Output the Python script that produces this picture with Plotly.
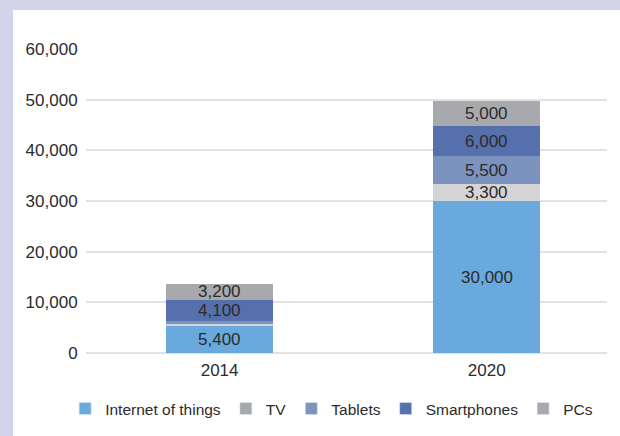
import plotly.graph_objects as go

years = ["2014", "2020"]
series_names = ["Internet of things", "TV", "Tablets", "Smartphones", "PCs"]
iot = [5400, 30000]
tv = [300, 3300]
tablets = [700, 5500]
smartphones = [4100, 6000]
pcs = [3200, 5000]
label_text = {
    "Internet of things": ["5,400", "30,000"],
    "TV": ["", "3,300"],
    "Tablets": ["", "5,500"],
    "Smartphones": ["4,100", "6,000"],
    "PCs": ["3,200", "5,000"],
}
y_ticks = [0, 10000, 20000, 30000, 40000, 50000, 60000]
y_tick_labels = ["0", "10,000", "20,000", "30,000", "40,000", "50,000", "60,000"]

bar_colors = ["#69a9dd", "#d4d4d6", "#7b93be", "#5570ad", "#a8a9ad"]
legend_colors = ["#69a9dd", "#a8a9ad", "#7b93be", "#5570ad", "#a8a9ad"]
values = [iot, tv, tablets, smartphones, pcs]

FONT = "Liberation Sans, Arial, sans-serif"
TXT = "#2b2b2b"

fig = go.Figure()
for name, vals, col in zip(series_names, values, bar_colors):
    fig.add_trace(go.Bar(x=years, y=vals, name=name, marker=dict(color=col, line=dict(width=0)),
                         width=0.4, showlegend=False, hoverinfo="skip"))
for name, col in zip(series_names, legend_colors):
    fig.add_trace(go.Bar(x=[years[0]], y=[None], name=name, marker=dict(color=col), showlegend=True))

# data labels centred in each segment (positions derived from the data)
annotations = []
base = [0] * len(years)
for name, vals in zip(series_names, values):
    for i in range(len(years)):
        txt = label_text[name][i]
        if txt:
            annotations.append(dict(x=i, y=base[i] + vals[i] / 2, text=txt, showarrow=False,
                                    xref="x", yref="y",
                                    font=dict(family=FONT, size=17, color=TXT)))
        base[i] += vals[i]

L, R, T, B = 86, 13, 49, 83
W, H = 620, 436
pw = W - L - R
ph = H - T - B
shapes = [dict(type="rect", xref="paper", yref="paper",
               x0=-(L - 13) / pw, x1=1 + (R + 5) / pw, y0=-(B + 5) / ph, y1=1 + (T - 10) / ph,
               fillcolor="white", line=dict(width=0), layer="below")]

fig.update_layout(
    width=W, height=H,
    margin=dict(l=L, r=R, t=T, b=B, autoexpand=False),
    paper_bgcolor="#d3d3ea",
    plot_bgcolor="white",
    barmode="stack",
    font=dict(family=FONT, size=17, color=TXT),
    annotations=annotations,
    shapes=shapes,
    xaxis=dict(type="category", range=[-0.5, 1.45], showgrid=False, showline=False,
               ticks="outside", ticklen=2, tickcolor="rgba(0,0,0,0)",
               tickfont=dict(size=17, color=TXT)),
    yaxis=dict(range=[0, 60000], tickvals=y_ticks, ticktext=y_tick_labels,
               showgrid=True, gridcolor="#e2e2e2", gridwidth=2,
               zeroline=True, zerolinecolor="#e2e2e2", zerolinewidth=2,
               ticks="outside", ticklen=4, tickcolor="rgba(0,0,0,0)",
               tickfont=dict(size=17, color=TXT)),
    legend=dict(orientation="h", xref="paper", x=-0.04, xanchor="left",
                yref="paper", y=-(409 - 353) / 304, yanchor="middle",
                font=dict(size=15.5, color=TXT), bgcolor="rgba(0,0,0,0)",
                traceorder="normal", itemclick=False, itemdoubleclick=False),
)
fig.write_html("out.html", config={"displayModeBar": False},
               post_script="document.body.style.margin='0';")
